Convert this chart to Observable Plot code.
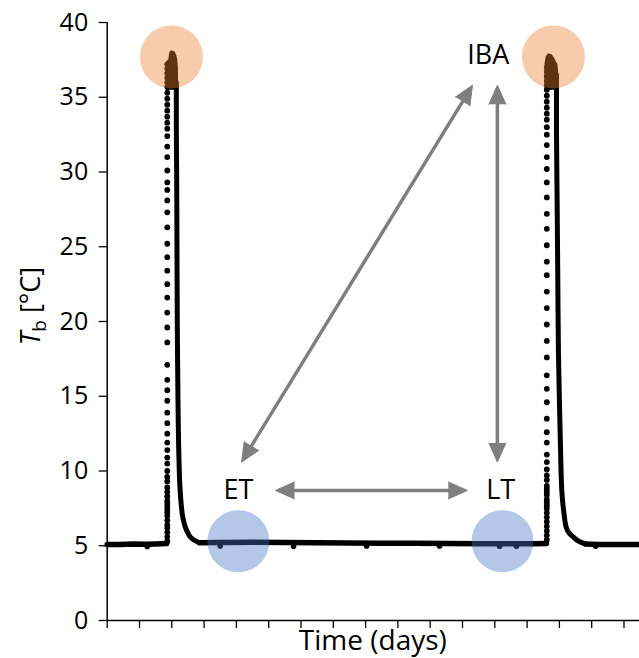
<!DOCTYPE html>
<html>
<head>
<meta charset="utf-8">
<script src="https://cdn.jsdelivr.net/npm/d3@7"></script>
<script src="https://cdn.jsdelivr.net/npm/@observablehq/plot@0.6"></script>
<style>
  html, body { margin: 0; padding: 0; background: #fff; }
  #chart { width: 639px; height: 658px; overflow: hidden; }
</style>
</head>
<body>
<div id="chart"></div>
<script>
// ---------- data (x in tick units along the time axis, T in °C) ----------
const yTicks = [0, 5, 10, 15, 20, 25, 30, 35, 40];
const xTicks = [0, 1, 2, 3, 4, 5, 6, 7, 8, 9, 10, 11, 12, 13, 14, 15, 16];

// baseline segments (thick line)
const base1X = [0, 0.4, 0.8, 1.2, 1.5, 1.84];
const base1T = [5.08, 5.08, 5.12, 5.1, 5.12, 5.15];
const base2X = [2.85, 3.5, 4.5, 5.5, 6.5, 7.5, 8.5, 9.5, 10.5, 11.5, 12.5, 13.2, 13.6];
const base2T = [5.2, 5.22, 5.24, 5.22, 5.2, 5.18, 5.17, 5.16, 5.15, 5.14, 5.13, 5.13, 5.15];
const base3X = [14.8, 15.2, 15.8, 16.48];
const base3T = [5.12, 5.08, 5.08, 5.08];

// small dips below the baseline
const dipX = [1.24, 3.5, 5.77, 8.03, 10.29, 12.15, 12.67, 15.12];
const dipT = [4.95, 4.98, 4.97, 4.98, 4.98, 4.97, 4.96, 4.96];

// first event: rising dots, peak top, cooling curve
const rise1X = 1.86;
const rise1T = [5.3, 5.6, 5.9, 6.2, 6.4, 6.7, 7.0, 7.2, 7.4, 7.6, 7.8, 8.0, 8.3, 8.6, 8.9, 9.3, 9.6, 10.0,
  10.5, 10.9, 11.4, 11.9, 12.5, 13.2, 13.9, 14.7, 15.4, 16.1, 17.1, 18.6, 19.6, 20.6, 21.6, 22.5, 23.4,
  24.3, 25.2, 26.3, 27.3, 28.1, 28.8, 29.3, 30.1, 31.0, 31.7, 32.4, 32.9, 33.3, 33.7, 34.1, 34.5, 34.9,
  35.3, 35.7, 36.0, 36.3, 36.6, 36.9, 37.2];
const top1X = [1.85, 1.85, 1.87, 1.9, 1.93, 1.95, 1.98, 2.06, 2.1, 2.13, 2.15, 2.16];
const top1T = [35.5, 37.1, 37.4, 37.45, 37.5, 37.9, 38.05, 38.0, 37.8, 37.5, 37.0, 35.5];
const fall1X = [2.14, 2.14, 2.15, 2.16, 2.17, 2.19, 2.22, 2.25, 2.29, 2.34, 2.41, 2.5, 2.59, 2.69, 2.85];
const fall1T = [36, 33, 30, 25, 20, 15, 11, 9, 7.8, 6.9, 6.3, 5.85, 5.55, 5.38, 5.22];

// second event
const rise2X = 13.61;
const rise2T = [5.4, 5.7, 6.0, 6.3, 6.6, 6.9, 7.2, 7.5, 7.7, 7.9, 8.1, 8.4, 8.6, 8.8, 9.0, 9.4, 9.7, 10.1,
  10.6, 11.1, 11.9, 12.6, 13.5, 14.6, 15.5, 16.4, 17.6, 18.7, 19.8, 20.9, 22.0, 23.1, 24.0, 25.1, 26.2,
  27.2, 28.3, 29.3, 30.2, 31.0, 31.8, 32.5, 33.0, 33.5, 33.9, 34.3, 34.7, 35.1, 35.5, 35.8, 36.1, 36.4,
  36.7, 37.0];
const top2X = [13.58, 13.58, 13.61, 13.66, 13.74, 13.8, 13.86, 13.9, 13.92, 13.93];
const top2T = [35.5, 37.3, 37.7, 37.85, 37.8, 37.6, 37.35, 37.2, 36.8, 35.5];
const fall2X = [13.91, 13.91, 13.93, 13.95, 13.97, 14.0, 14.04, 14.08, 14.14, 14.21, 14.32, 14.45, 14.6, 14.8];
const fall2T = [36.5, 33, 28, 23, 18, 14.7, 11, 8.5, 7.2, 6.24, 5.8, 5.55, 5.3, 5.12];

// highlight circles
const hotX = [1.99, 13.815];
const hotT = [37.7, 37.7];
const coldX = [4.06, 12.24];
const coldT = [5.3, 5.3];

// double-headed arrows
const arrX1 = [4.16, 12.08, 5.21];
const arrT1 = [10.6, 10.6, 8.7];
const arrX2 = [11.31, 12.08, 11.15];
const arrT2 = [35.8, 35.8, 8.7];

// state labels
const labelNames = ["ET", "LT", "IBA"];
const labelX = [4.06, 12.18, 11.8];
const labelT = [8.7, 8.7, 37.8];

// ---------- layout ----------
const W = 639, H = 658;
const mL = 106.7, mR = 0, mT = 22, mB = 38;
const xDomain = [0, 16.48];
const yDomain = [0, 40];
const FONT = "'Open Sans', 'Noto Sans', sans-serif";
const GRAY = "#7f7f7f";

const toPts = (X, T) => X.map((x, i) => ({x, T: T[i]}));
const baseline = [toPts(base1X, base1T), toPts(base2X, base2T), toPts(base3X, base3T)];
const dips = toPts(dipX, dipT);
const rise = [...rise1T.map(T => ({x: rise1X, T})), ...rise2T.map(T => ({x: rise2X, T}))];
const tops = [toPts(top1X, top1T), toPts(top2X, top2T)];
const falls = [toPts(fall1X, fall1T), toPts(fall2X, fall2T)];
const hot = toPts(hotX, hotT);
const cold = toPts(coldX, coldT);
const arrows = arrX1.map((x1, i) => ({x1, y1: arrT1[i], x2: arrX2[i], y2: arrT2[i]}));
const labels = labelNames.map((name, i) => ({name, x: labelX[i], T: labelT[i]}));

// pixel-space helpers (same mapping as the Plot scales) to orient arrowheads
const xs = d3.scaleLinear(xDomain, [mL, W - mR]);
const ys = d3.scaleLinear(yDomain, [H - mB, mT]);
const heads = [];
for (const a of arrows) {
  const dx = xs(a.x2) - xs(a.x1), dy = ys(a.y2) - ys(a.y1);
  const ang = Math.atan2(dx, -dy) * 180 / Math.PI;
  heads.push({x: a.x2, T: a.y2, rot: ang});
  heads.push({x: a.x1, T: a.y1, rot: ang + 180});
}

const chart = Plot.plot({
  width: W, height: H,
  marginLeft: mL, marginRight: mR, marginTop: mT, marginBottom: mB,
  style: {fontFamily: FONT, fontSize: "25px", color: "#000", background: "#fff", overflow: "visible"},
  x: {domain: xDomain},
  y: {domain: yDomain},
  marks: [
    Plot.axisY(yTicks, {tickSize: 8, tickPadding: 11, label: null, fontSize: 25, stroke: "#000", strokeWidth: 1.3}),
    Plot.axisX(xTicks, {tickSize: 8, tickFormat: () => "", label: null, stroke: "#000", strokeWidth: 1.3}),
    Plot.ruleX([0], {stroke: "#000", strokeWidth: 1.5}),
    Plot.ruleY([0], {stroke: "#000", strokeWidth: 1.5}),
    // data
    ...baseline.map(seg => Plot.line(seg, {x: "x", y: "T", stroke: "#000", strokeWidth: 5.5, strokeLinecap: "round"})),
    Plot.dot(dips, {x: "x", y: "T", r: 2.8, fill: "#000"}),
    ...falls.map(seg => Plot.line(seg, {x: "x", y: "T", stroke: "#000", strokeWidth: 5, curve: "monotone-y", strokeLinecap: "round"})),
    ...tops.map(seg => Plot.line(seg, {x: "x", y: "T", stroke: "#000", fill: "#000", strokeWidth: 2.5, curve: "linear"})),
    Plot.dot(rise, {x: "x", y: "T", r: 2.9, fill: "#000"}),
    // highlight circles
    Plot.dot(hot, {x: "x", y: "T", r: 31.5, fill: "#ed7d31", fillOpacity: 0.4}),
    Plot.dot(cold, {x: "x", y: "T", r: 31, fill: "#4472c4", fillOpacity: 0.4}),
    // arrows
    Plot.arrow(arrows, {x1: "x1", y1: "y1", x2: "x2", y2: "y2", headLength: 0, insetStart: 10, insetEnd: 10, stroke: GRAY, strokeWidth: 3.5}),
    Plot.vector(heads, {x: "x", y: "T", rotate: "rot", length: 19, r: 8.5, shape: "spike", anchor: "end", fill: GRAY, stroke: GRAY, strokeWidth: 1}),
    // labels
    Plot.text(labels, {x: "x", y: "T", text: "name", fontSize: 27, fill: "#000", textAnchor: "middle", lineAnchor: "middle"})
  ]
});

const svg = d3.select(chart);
// y-axis title with italic T and subscript b
const yt = svg.append("text")
  .attr("transform", "translate(40,306) rotate(-90)")
  .attr("text-anchor", "middle")
  .attr("font-family", FONT)
  .attr("font-size", 27)
  .attr("fill", "#000");
yt.append("tspan").attr("font-style", "italic").text("T");
yt.append("tspan").attr("font-size", 19).attr("dy", 6).text("b");
yt.append("tspan").attr("dy", -6).text(" [°C]");
// x-axis title
svg.append("text")
  .attr("x", (mL + W - mR) / 2)
  .attr("y", 650)
  .attr("text-anchor", "middle")
  .attr("font-family", FONT)
  .attr("font-size", 28)
  .attr("fill", "#000")
  .text("Time (days)");

document.getElementById("chart").appendChild(chart);
</script>
</body>
</html>
